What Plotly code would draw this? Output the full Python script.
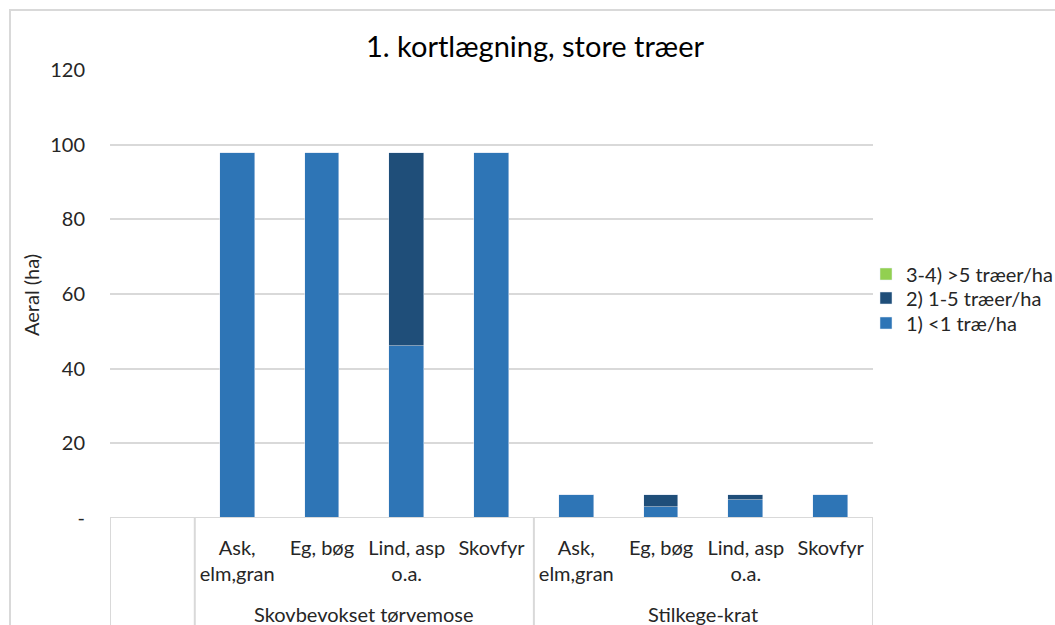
import plotly.graph_objects as go

# Data
groups = ["", "Skovbevokset tørvemose", "Stilkege-krat"]
subcats = ["", "Ask,<br>elm,gran", "Eg, bøg", "Lind, asp<br>o.a.", "Skovfyr",
           "Ask,<br>elm,gran", "Eg, bøg", "Lind, asp<br>o.a.", "Skovfyr"]
lt1 = [0, 97.8, 97.8, 46.2, 97.8, 6.2, 2.9, 4.8, 6.2]
t1_5 = [0, 0, 0, 51.6, 0, 0, 3.3, 1.4, 0]
gt5 = [0, 0, 0, 0, 0, 0, 0, 0, 0]
ytick_vals = [0, 20, 40, 60, 80, 100, 120]
ytick_text = ["-", "20", "40", "60", "80", "100", "120"]

FONT = "Lato"
GRID = "#D9D9D9"
TXT = "#262626"
x = list(range(len(subcats)))

fig = go.Figure()
fig.add_trace(go.Bar(x=x, y=lt1, name="1) <1 træ/ha", marker_color="#2E75B6", width=0.41,
                     legend="legend3"))
fig.add_trace(go.Bar(x=x, y=t1_5, name="2) 1-5 træer/ha", marker_color="#1F4E79", width=0.41,
                     legend="legend2"))
fig.add_trace(go.Bar(x=x, y=gt5, name="3-4) >5 træer/ha", marker_color="#92D050", width=0.41,
                     legend="legend"))

# plot area: x 110..873, y 70..518 (pixels)
L, R, T, B = 110, 873, 70, 518
pw, ph = R - L, B - T

def px_x(p):
    return (p - L) / pw

def px_y(p):
    return (B - p) / ph

shapes = [
    # outer chart border
    dict(type="rect", xref="paper", yref="paper", x0=px_x(10), x1=px_x(1070),
         y0=px_y(640), y1=px_y(10), line=dict(color=GRID, width=2), layer="below"),
    # category axis line
    dict(type="line", xref="x", yref="y", x0=-0.5, x1=8.5, y0=0, y1=0,
         line=dict(color=GRID, width=2)),
]
for d in [-0.5, 0.5, 4.5, 8.5]:
    shapes.append(dict(type="line", xref="x", yref="paper", x0=d, x1=d,
                       y0=0, y1=px_y(640), line=dict(color=GRID, width=2)))

annotations = [
    dict(x=2.5, y=px_y(614), xref="x", yref="paper", text=groups[1], showarrow=False,
         yanchor="middle", font=dict(size=20, color=TXT, family=FONT)),
    dict(x=6.5, y=px_y(614), xref="x", yref="paper", text=groups[2], showarrow=False,
         yanchor="middle", font=dict(size=20, color=TXT, family=FONT)),
    dict(x=px_x(31), y=px_y(295), xref="paper", yref="paper", text="Aeral (ha)",
         textangle=-90, showarrow=False, xanchor="center", yanchor="middle",
         font=dict(size=20, color=TXT, family=FONT)),
]

leg = dict(x=px_x(866), xanchor="left", yanchor="middle",
           font=dict(size=20, family=FONT, color=TXT), itemwidth=30,
           bgcolor="rgba(0,0,0,0)")

fig.update_layout(
    width=1055, height=625,
    barmode="stack",
    showlegend=True,
    paper_bgcolor="white", plot_bgcolor="white",
    margin=dict(l=L, r=1055 - R, t=T, b=625 - B, autoexpand=False),
    font=dict(family=FONT, color=TXT, size=20),
    title=dict(text="1. kortlægning, store træer", xref="container", x=535 / 1055,
               xanchor="center", y=1 - 47 / 625, yanchor="middle",
               font=dict(size=29, family=FONT, color="#000000")),
    legend=dict(leg, y=px_y(274)),
    legend2=dict(leg, y=px_y(298)),
    legend3=dict(leg, y=px_y(323)),
    shapes=shapes,
    annotations=annotations,
    bargap=0,
)
fig.update_xaxes(range=[-0.5, 8.5], tickvals=x, ticktext=subcats, showgrid=False,
                 zeroline=False, showline=False, ticks="", tickfont=dict(size=20),
                 ticklabelstandoff=16, fixedrange=True)
fig.update_yaxes(range=[0, 120], tickvals=ytick_vals, ticktext=ytick_text, showgrid=True,
                 gridcolor=GRID, gridwidth=2, zeroline=False, showline=False,
                 ticks="", ticklen=0, tickfont=dict(size=20), ticklabelstandoff=24)

fig.write_html("out.html", config={"displayModeBar": False},
               post_script="document.body.style.margin='0';document.body.style.overflow='hidden';")
